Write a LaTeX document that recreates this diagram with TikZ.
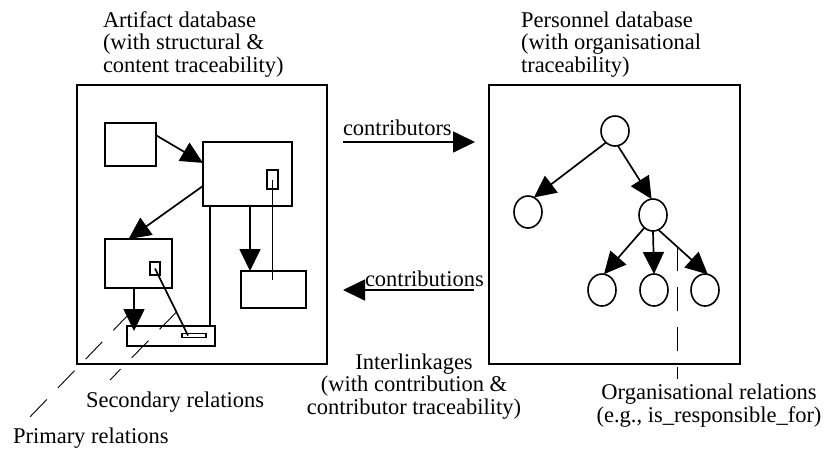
\documentclass[tikz,border=0pt]{standalone}
\usepackage{fontspec}
\setmainfont{Liberation Serif}
\usetikzlibrary{shapes.geometric,arrows.meta,calc}
\tikzset{
  bigbox/.style={draw, line width=2pt, inner sep=0pt, outer sep=0pt},
  box/.style={draw, line width=1.8pt, inner sep=0pt, outer sep=0pt},
  tinybox/.style={draw, line width=1.2pt, inner sep=0pt, outer sep=0pt},
  oval/.style={draw, ellipse, line width=1.6pt, inner sep=0pt, outer sep=0pt, minimum width=28pt, minimum height=32pt},
  arr/.style={line width=1.7pt, -{Triangle[length=22pt,width=21pt]}},
  plain/.style={line width=1.7pt},
  rel/.style={line width=0.9pt, dash pattern=on 24pt off 16pt},
  lbl/.style={font=\fontsize{22.5}{22.5}\selectfont, inner sep=0pt, outer sep=0pt}
}
\begin{document}
\begin{tikzpicture}[x=1pt,y=1pt]
\useasboundingbox (0,0) rectangle (832,-448);

% ---------- big boxes ----------
\node[bigbox, minimum width=250pt, minimum height=279pt] (art) at (202,-224.5) {};
\node[bigbox, minimum width=251pt, minimum height=279pt] (per) at (614.5,-224.5) {};

% ---------- titles (anchor on the baseline of the last line) ----------
\node[lbl, anchor=base west, align=left] (artt) at (103,-72) {Artifact database\\(with structural \&\\content traceability)};
\node[lbl, anchor=base west, align=left] (pert) at (521,-72) {Personnel database\\(with organisational\\traceability)};

% ---------- artifact database content ----------
\node[box, minimum width=51pt, minimum height=43pt] (A) at (130.5,-144.5) {};
\node[box, minimum width=89pt, minimum height=64pt] (B) at (247.5,-174) {};
\node[tinybox, minimum width=11pt, minimum height=19pt] (Bs) at (272.5,-179.5) {};
\node[box, minimum width=67pt, minimum height=49pt] (C) at (138.5,-263.5) {};
\node[tinybox, minimum width=10pt, minimum height=13pt] (Cs) at (155,-268.5) {};
\node[box, minimum width=65pt, minimum height=37pt] (D) at (273.5,-289.5) {};
\node[box, minimum width=88pt, minimum height=20pt] (E) at (171,-336) {};
\node[tinybox, minimum width=24pt, minimum height=3.5pt] (Es) at (194,-335.5) {};

\draw[arr] (A.20) -- (B.166);
\draw[arr] (B.195) -- (C.112);
\draw[arr] ([xshift=2.5pt]B.south) -- ([xshift=2.5pt]B.south |- D.north);
\draw[arr, shorten >=-5pt] ([xshift=-4.5pt]C.south) -- ([xshift=-4.5pt]C.south |- E.north);
\draw[plain] ([xshift=-37.5pt]B.south) -- ([xshift=-37.5pt]B.south |- E.north);
\draw[plain] (Bs.center) -- ($(Bs.center |- D.north)+(0,-9)$);
\draw[plain] (Cs.center) -- coordinate[pos=0.65] (secT) ([xshift=6pt]Es.west);

% ---------- personnel tree ----------
\node[oval, minimum height=30pt] (r) at (615,-131) {};
\node[oval] (lc) at (528,-212) {};
\node[oval] (rc) at (653,-215) {};
\node[oval] (g1) at (602,-290) {};
\node[oval] (g2) at (654,-290) {};
\node[oval] (g3) at (705,-290) {};
\draw[arr] (r.232) -- (lc.68);
\draw[arr] (r.281) -- (rc.95);
\draw[arr] (rc.236) -- (g1.83);
\draw[arr] (rc.270) -- (g2.90);
\draw[arr] (rc.290) -- coordinate[pos=0.39] (orgpt) (g3.80);

% ---------- inter-database arrows ----------
\draw[arr, shorten <=16pt, shorten >=14pt] ([yshift=82.5pt]art.east) -- ([yshift=82.5pt]per.west);
\node[lbl, anchor=base west] (ctors) at (343,-135) {contributors};
\draw[arr, shorten <=15pt, shorten >=16pt] ([yshift=-65.5pt]per.west) -- ([yshift=-65.5pt]art.east);
\node[lbl, anchor=base west] (ctions) at (365,-286) {contributions};

% ---------- bottom labels ----------
\node[lbl, anchor=base, align=center] (inter) at (414,-414) {Interlinkages\\(with contribution \&\\contributor traceability)};
\node[lbl, anchor=base, align=center] (org) at (709,-422) {Organisational relations\\(e.g., is\_responsible\_for)};
\node[lbl, anchor=base west] (sec) at (86,-407) {Secondary relations};
\node[lbl, anchor=base west] (prim) at (13,-443) {Primary relations};

% ---------- relation pointers ----------
\coordinate (primT) at (130,-313);
\coordinate (primE) at (28,-419);
\coordinate (secE) at (110,-380);
\draw[rel] (primT) -- (primE);
\draw[rel] (secT) -- (secE);
\draw[rel, shorten >=5pt] (orgpt) -- (orgpt |- org.north);
\end{tikzpicture}
\end{document}
